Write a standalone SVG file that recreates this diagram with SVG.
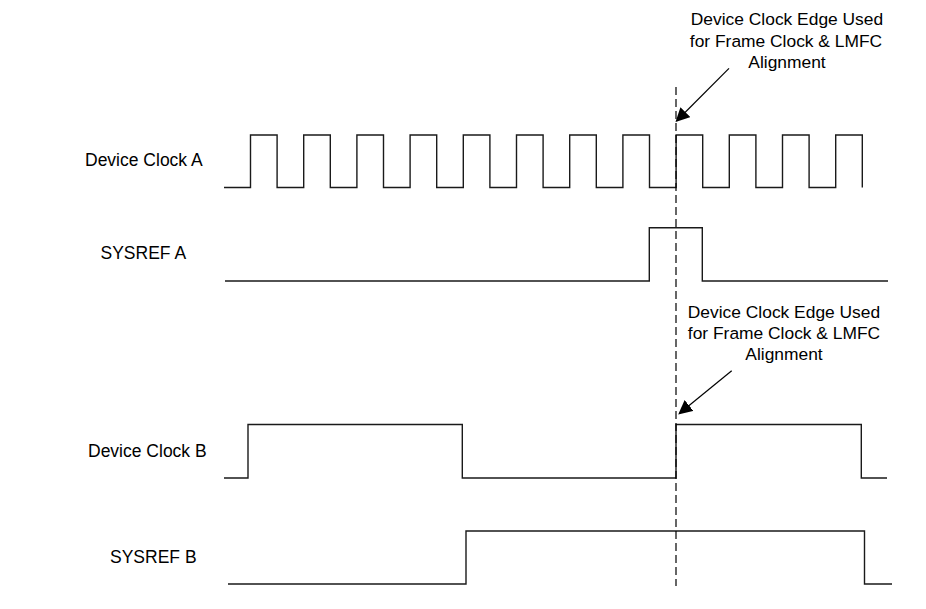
<svg xmlns="http://www.w3.org/2000/svg" width="926" height="609" viewBox="0 0 926 609">
<style>
.lbl{font-family:"Liberation Sans",Arial,sans-serif;font-size:17.5px;fill:#000}
.ann{font-family:"Liberation Sans",Arial,sans-serif;font-size:17.4px;fill:#000;text-anchor:middle}
.sig{fill:none;stroke:#1a1a1a;stroke-width:1.4}
.dash{fill:none;stroke:#000;stroke-width:1.2;stroke-dasharray:8 4}
.arr{fill:none;stroke:#000;stroke-width:1.2}
</style>
<defs>
<marker id="ah" viewBox="0 0 10 10" refX="9" refY="5" markerWidth="14" markerHeight="14" markerUnits="userSpaceOnUse" orient="auto">
<path d="M0,0 L10,5 L0,10 Z" fill="#000"/>
</marker>
</defs>
<rect width="926" height="609" fill="#fff"/>
<g id="device-clock-a">
<text class="lbl" x="85" y="166">Device Clock A</text>
<path class="sig" d="M224,187.5 H250.5 V135 H277.1 V187.5 H303.7 V135 H330.3 V187.5 H356.9 V135 H383.5 V187.5 H410.1 V135 H436.7 V187.5 H463.3 V135 H489.9 V187.5 H516.5 V135 H543.1 V187.5 H569.7 V135 H596.3 V187.5 H622.9 V135 H649.5 V187.5 H676.1 V135 H702.7 V187.5 H729.3 V135 H755.9 V187.5 H782.5 V135 H809.1 V187.5 H835.7 V135 H862.3 V187.5"/>
</g>
<g id="sysref-a">
<text class="lbl" x="100.5" y="259">SYSREF A</text>
<path class="sig" d="M225,281 H649.3 V227.7 H702.3 V281 H888"/>
</g>
<g id="device-clock-b">
<text class="lbl" x="88" y="457">Device Clock B</text>
<path class="sig" d="M224,478 H248 V424.5 H462.3 V478 H676 V424.5 H861.3 V478 H887"/>
</g>
<g id="sysref-b">
<text class="lbl" x="110" y="563">SYSREF B</text>
<path class="sig" d="M228,584 H466 V531 H864.5 V584 H892"/>
</g>
<g id="annotation-top">
<text class="ann" x="787" y="25">Device Clock Edge Used</text>
<text class="ann" x="786" y="47">for Frame Clock &amp; LMFC</text>
<text class="ann" x="787" y="68">Alignment</text>
</g>
<g id="annotation-bottom">
<text class="ann" x="784" y="318">Device Clock Edge Used</text>
<text class="ann" x="784" y="339">for Frame Clock &amp; LMFC</text>
<text class="ann" x="784" y="360">Alignment</text>
</g>
<g id="connectors">
<line class="dash" x1="676" y1="87" x2="676" y2="586"/>
<line class="arr" x1="729" y1="68.3" x2="676.5" y2="121" marker-end="url(#ah)"/>
<line class="arr" x1="731.7" y1="370.7" x2="679.3" y2="413.5" marker-end="url(#ah)"/>
</g>
</svg>
